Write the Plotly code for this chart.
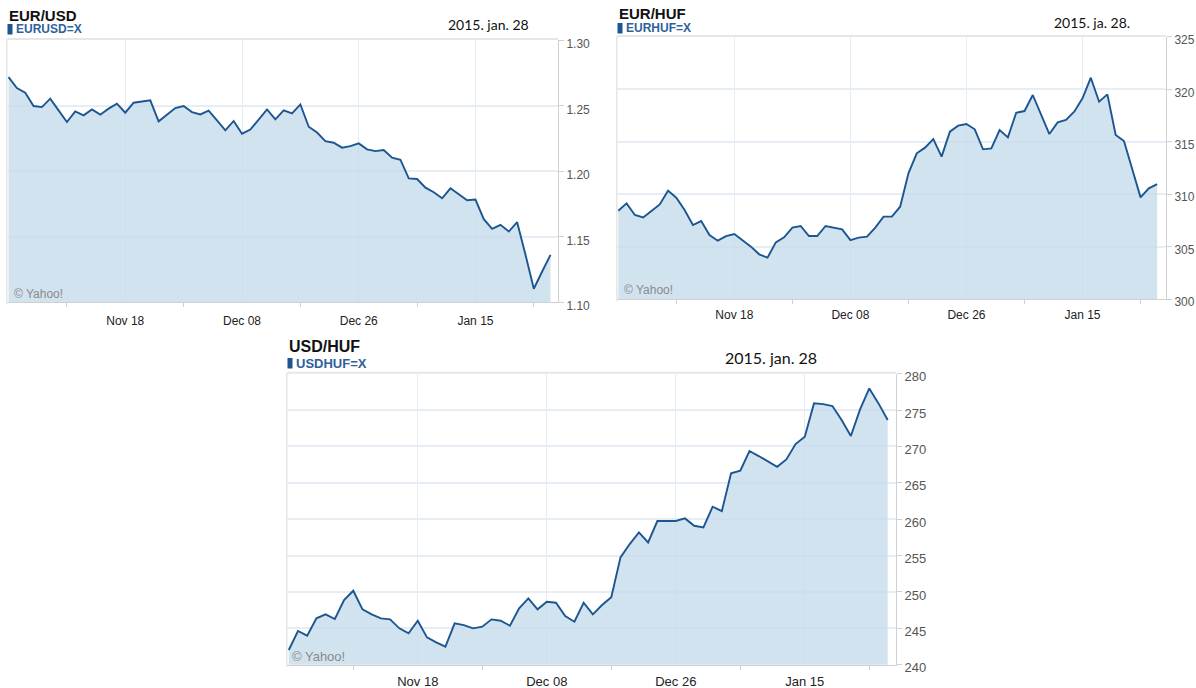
import pandas as pd
import plotly.graph_objects as go

# ---------------- data ----------------
dates = [d.strftime("%Y-%m-%d") for d in pd.bdate_range("2014-10-29", "2015-01-28")]

eurusd = [1.2717, 1.2633, 1.2597, 1.2496, 1.2488, 1.2552, 1.2463, 1.2374, 1.2455, 1.2425,
          1.2470, 1.2430, 1.2476, 1.2514, 1.2445, 1.2521, 1.2531, 1.2539, 1.2379, 1.2430,
          1.2480, 1.2496, 1.2450, 1.2432, 1.2460, 1.2386, 1.2310, 1.2382, 1.2285, 1.2316,
          1.2394, 1.2470, 1.2394, 1.2463, 1.2440, 1.2508, 1.2338, 1.2294, 1.2228, 1.2216,
          1.2178, 1.2190, 1.2211, 1.2165, 1.2152, 1.2160, 1.2102, 1.2086, 1.1944, 1.1939,
          1.1873, 1.1838, 1.1792, 1.1868, 1.1822, 1.1777, 1.1782, 1.1632, 1.1558, 1.1589,
          1.1538, 1.1609, 1.1360, 1.1101, 1.1233, 1.1360]

eurhuf = [308.43, 309.13, 308.02, 307.79, 308.40, 309.03, 310.34, 309.67, 308.49, 307.06,
          307.44, 306.11, 305.57, 306.01, 306.20, 305.63, 305.00, 304.27, 303.95, 305.41,
          305.89, 306.81, 306.97, 306.01, 306.01, 306.97, 306.81, 306.65, 305.63, 305.86,
          305.95, 306.81, 307.86, 307.86, 308.81, 311.99, 313.90, 314.44, 315.26, 313.58,
          315.96, 316.54, 316.69, 316.19, 314.28, 314.37, 316.12, 315.42, 317.77, 317.93,
          319.46, 317.62, 315.74, 316.85, 317.08, 317.87, 319.14, 321.11, 318.82, 319.52,
          315.65, 315.07, 312.31, 309.70, 310.56, 310.97]

usdhuf = [242.02, 244.63, 243.99, 246.37, 246.92, 246.28, 248.89, 250.17, 247.61, 246.92,
          246.37, 246.23, 245.00, 244.31, 246.05, 243.76, 243.07, 242.48, 245.68, 245.45,
          245.00, 245.22, 246.23, 246.05, 245.36, 247.74, 249.12, 247.61, 248.66, 248.52,
          246.69, 245.91, 248.52, 246.92, 248.20, 249.26, 254.75, 256.58, 258.19, 256.81,
          259.75, 259.75, 259.75, 260.11, 259.10, 258.88, 261.72, 261.12, 266.30, 266.66,
          269.37, 268.68, 267.90, 267.21, 268.22, 270.33, 271.34, 275.92, 275.82, 275.55,
          273.63, 271.43, 275.09, 277.98, 275.92, 273.63]

major_dates = ["2014-11-18", "2014-12-08", "2014-12-26", "2015-01-15"]
major_labels = ["Nov 18", "Dec 08", "Dec 26", "Jan 15"]
minor_dates = ["2014-11-07", "2014-11-27", "2014-12-17", "2015-01-06", "2015-01-26"]

titles = ["EUR/USD", "EUR/HUF", "USD/HUF"]
symbols = ["EURUSD=X", "EURHUF=X", "USDHUF=X"]
date_texts = ["2015. jan. 28", "2015. ja. 28.", "2015. jan. 28"]

eurusd_ticks = [1.10, 1.15, 1.20, 1.25, 1.30]
eurusd_ticklabels = ["1.10", "1.15", "1.20", "1.25", "1.30"]
eurhuf_ticks = [300, 305, 310, 315, 320, 325]
usdhuf_ticks = [240, 245, 250, 255, 260, 265, 270, 275, 280]

# ---------------- layout helpers ----------------
W, H = 1196, 688
xi = list(range(len(dates)))
major_idx = [dates.index(d) for d in major_dates]
minor_idx = [dates.index(d) for d in minor_dates]

LINE = "#1d5591"
FILL = "rgba(197,219,236,0.78)"
GRID = "#e6edf4"
AXLINE = "#d0d0d0"

def px_x(p):
    return p / W

def px_y(p):
    return 1 - p / H

panels = [
    dict(y=eurusd, x0=7.3, x1=558, y0=40, y1=302, xr=[-0.15, 65.9], yr=[1.10, 1.30],
         tv=eurusd_ticks, tt=eurusd_ticklabels, fs=12, xso=8, yshift=4),
    dict(y=eurhuf, x0=617.3, x1=1166, y0=36.9, y1=299.1, xr=[-0.12, 66.07], yr=[300, 325],
         tv=eurhuf_ticks, tt=[str(v) for v in eurhuf_ticks], fs=12, xso=4, yshift=3),
    dict(y=usdhuf, x0=287.3, x1=896, y0=373.7, y1=664.7, xr=[-0.16, 65.9], yr=[240, 280],
         tv=usdhuf_ticks, tt=[str(v) for v in usdhuf_ticks], fs=13, xso=5, yshift=3),
]

fig = go.Figure()
layout = dict(width=W, height=H, margin=dict(l=0, r=0, t=0, b=0, autoexpand=False),
              paper_bgcolor="white", plot_bgcolor="white", showlegend=False,
              font=dict(family="Liberation Sans, Arial, sans-serif", color="#222"))
shapes = []
annotations = []

for k, p in enumerate(panels):
    sfx = "" if k == 0 else str(k + 1)
    fig.add_trace(go.Scatter(x=xi, y=p["y"], mode="lines", fill="tozeroy",
                             fillcolor=FILL, line=dict(color=LINE, width=1.9),
                             xaxis="x" + sfx, yaxis="y" + sfx, hoverinfo="skip"))
    layout["xaxis" + sfx] = dict(
        domain=[px_x(p["x0"]), px_x(p["x1"])], anchor="y" + sfx, range=p["xr"],
        tickmode="array", tickvals=major_idx, ticktext=major_labels,
        showgrid=True, gridcolor=GRID, gridwidth=1, zeroline=False,
        showline=True, linecolor=AXLINE, linewidth=1, ticks="", automargin=False,
        ticklabelstandoff=p["xso"],
        tickfont=dict(size=p["fs"], color="#222"),
        minor=dict(tickmode="array", tickvals=minor_idx, ticks="outside", ticklen=4,
                   tickcolor=AXLINE, showgrid=False),
        fixedrange=True)
    layout["yaxis" + sfx] = dict(
        domain=[px_y(p["y1"]), px_y(p["y0"])], anchor="x" + sfx, range=p["yr"],
        side="right", tickmode="array", tickvals=p["tv"], ticktext=p["tt"],
        showgrid=True, gridcolor=GRID, gridwidth=1.5, zeroline=False,
        showline=True, linecolor=AXLINE, linewidth=1, automargin=False,
        ticks="outside", ticklen=5, tickcolor=AXLINE, ticklabelshift=p["yshift"],
        tickfont=dict(size=p["fs"], color="#555"), fixedrange=True)
    shapes.append(dict(type="line", xref="paper", yref="paper",
                       x0=px_x(p["x0"]), x1=px_x(p["x1"]), y0=px_y(p["y0"] - 1), y1=px_y(p["y0"] - 1),
                       line=dict(color="#e6e6e6", width=2)))
    shapes.append(dict(type="line", xref="paper", yref="paper",
                       x0=px_x(p["x0"] - 0.5), x1=px_x(p["x0"] - 0.5), y0=px_y(p["y0"] - 1), y1=px_y(p["y1"] + 2),
                       line=dict(color="#e6e6e6", width=1.5)))

title_pos = [(7, 15, 29), (617, 13, 28), (287, 346, 363)]
date_pos = [(488, 25, 14), (1092, 22, 14), (771, 357, 16)]
yahoo_pos = [(12, 294, 12), (622, 290, 12), (290, 656, 13)]
for k in range(3):
    tx, ty, sy = title_pos[k]
    big = 16 if k == 2 else 15
    annotations.append(dict(text="<b>%s</b>" % titles[k], x=px_x(tx), y=px_y(ty),
                            xref="paper", yref="paper", xanchor="left", yanchor="middle",
                            showarrow=False, font=dict(size=big, color="#111",
                                                       family="Liberation Sans, Arial")))
    annotations.append(dict(text="<b>%s</b>" % symbols[k], x=px_x(tx + 7), y=px_y(sy),
                            xref="paper", yref="paper", xanchor="left", yanchor="middle",
                            showarrow=False, font=dict(size=13 if k == 2 else 12, color="#2f619a",
                                                       family="Liberation Sans, Arial")))
    shapes.append(dict(type="rect", xref="paper", yref="paper",
                       x0=px_x(tx + 0.5), x1=px_x(tx + 5.5), y0=px_y(sy + 5.5), y1=px_y(sy - 5),
                       fillcolor="#1d5591", line=dict(width=0)))
    dx, dy, ds = date_pos[k]
    annotations.append(dict(text=date_texts[k], x=px_x(dx), y=px_y(dy),
                            xref="paper", yref="paper", xanchor="center", yanchor="middle",
                            showarrow=False, font=dict(size=ds, color="#111", family="Lato, Open Sans")))
    yx, yy, ys = yahoo_pos[k]
    annotations.append(dict(text="© Yahoo!", x=px_x(yx), y=px_y(yy),
                            xref="paper", yref="paper", xanchor="left", yanchor="middle",
                            showarrow=False, font=dict(size=ys, color="#8a8a8a",
                                                       family="Liberation Sans, Arial")))

layout["shapes"] = shapes
layout["annotations"] = annotations
fig.update_layout(**layout)
fig.write_html("out.html", config={"displayModeBar": False},
               post_script="document.body.style.margin='0';document.body.style.overflow='hidden';")
